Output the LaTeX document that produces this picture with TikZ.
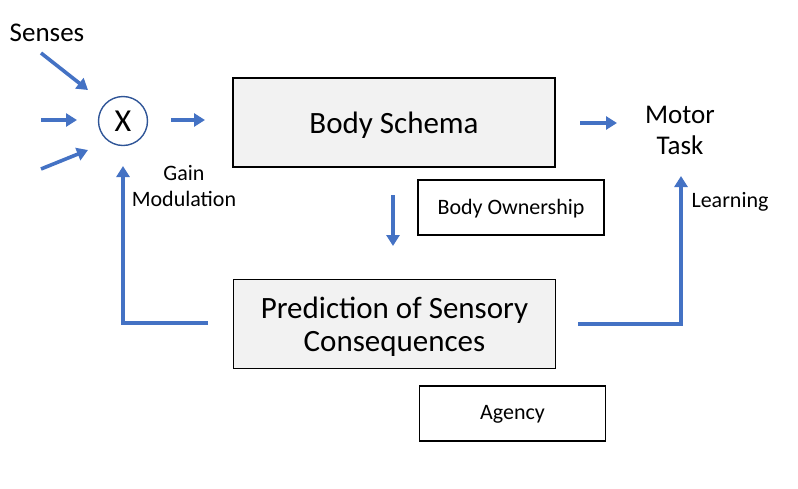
\documentclass[tikz,border=0pt]{standalone}
\usepackage{fontspec}
\setmainfont{Carlito}
\usetikzlibrary{arrows.meta}
\definecolor{arrblue}{HTML}{4472C4}
\definecolor{circblue}{HTML}{2F5597}
\definecolor{boxgray}{HTML}{F2F2F2}
\newcommand{\lowerby}[2]{\raisebox{-#1}[\height][\depth]{#2}}
\tikzset{
  mainbox/.style={draw=black, fill=boxgray, line width=1.6pt, minimum width=322pt, minimum height=89pt, inner sep=0pt, align=center, font=\fontsize{31}{33}\selectfont},
  smallbox/.style={draw=black, fill=white, line width=1.6pt, minimum width=186pt, minimum height=55pt, inner sep=0pt, font=\fontsize{22}{26}\selectfont},
  arr/.style={draw=arrblue, line width=3.6pt, -{Triangle[length=11pt,width=13pt]}},
  lbl/.style={inner sep=0pt, align=center},
}
\begin{document}
\begin{tikzpicture}[x=1pt,y=-1pt]
\useasboundingbox (0,0) rectangle (798,488);
% nodes
\node[lbl, font=\fontsize{27}{30}\selectfont] (senses) at (47,33) {Senses};
\node[draw=circblue, line width=1.4pt, circle, minimum size=49pt, inner sep=0pt, font=\fontsize{32}{34}\selectfont] (mult) at (123,121) {\lowerby{0.5pt}{X}};
\node[mainbox] (schema) at (394,122.5) {\lowerby{3pt}{Body Schema}};
\node[mainbox] (pred) at (394.5,324) {\lowerby{4pt}{\begin{tabular}{@{}c@{}}Prediction of Sensory\\Consequences\end{tabular}}};
\node[smallbox] (own) at (511,207.5) {\lowerby{1pt}{Body Ownership}};
\node[smallbox] (agency) at (512.5,413.5) {\lowerby{1pt}{Agency}};
\node[lbl, font=\fontsize{27}{31}\selectfont] (motor) at (680,130) {Motor\\Task};
\node[lbl, font=\fontsize{22}{26}\selectfont] (gain) at (184,186) {Gain\\Modulation};
\node[lbl, font=\fontsize{22}{26}\selectfont] (learn) at (730,202) {Learning};
% arrow end coordinates
\coordinate (s1a) at (41,53);
\coordinate (s1b) at (88,90);
\coordinate (s2a) at (41,120);
\coordinate (s2b) at (77,120);
\coordinate (s3a) at (41,169);
\coordinate (s3b) at (88,150);
\coordinate (m1) at (171,120);
\coordinate (m2) at (205,120);
\coordinate (b1) at (580,123);
\coordinate (b2) at (617,123);
\coordinate (d1) at (393,195);
\coordinate (d2) at (393,246);
\coordinate (l1) at (208,323);
\coordinate (l2) at (123,323);
\coordinate (l3) at (123,166);
\coordinate (r1) at (578,324);
\coordinate (r2) at (681,324);
\coordinate (r3) at (681,176);
% connectors
\draw[arr] (s1a) -- (s1b);
\draw[arr] (s2a) -- (s2b);
\draw[arr] (s3a) -- (s3b);
\draw[arr] (m1) -- (m2);
\draw[arr] (b1) -- (b2);
\draw[arr] (d1) -- (d2);
\draw[arr] (l1) -- (l2) -- (l3);
\draw[arr] (r1) -- (r2) -- (r3);
\end{tikzpicture}
\end{document}
